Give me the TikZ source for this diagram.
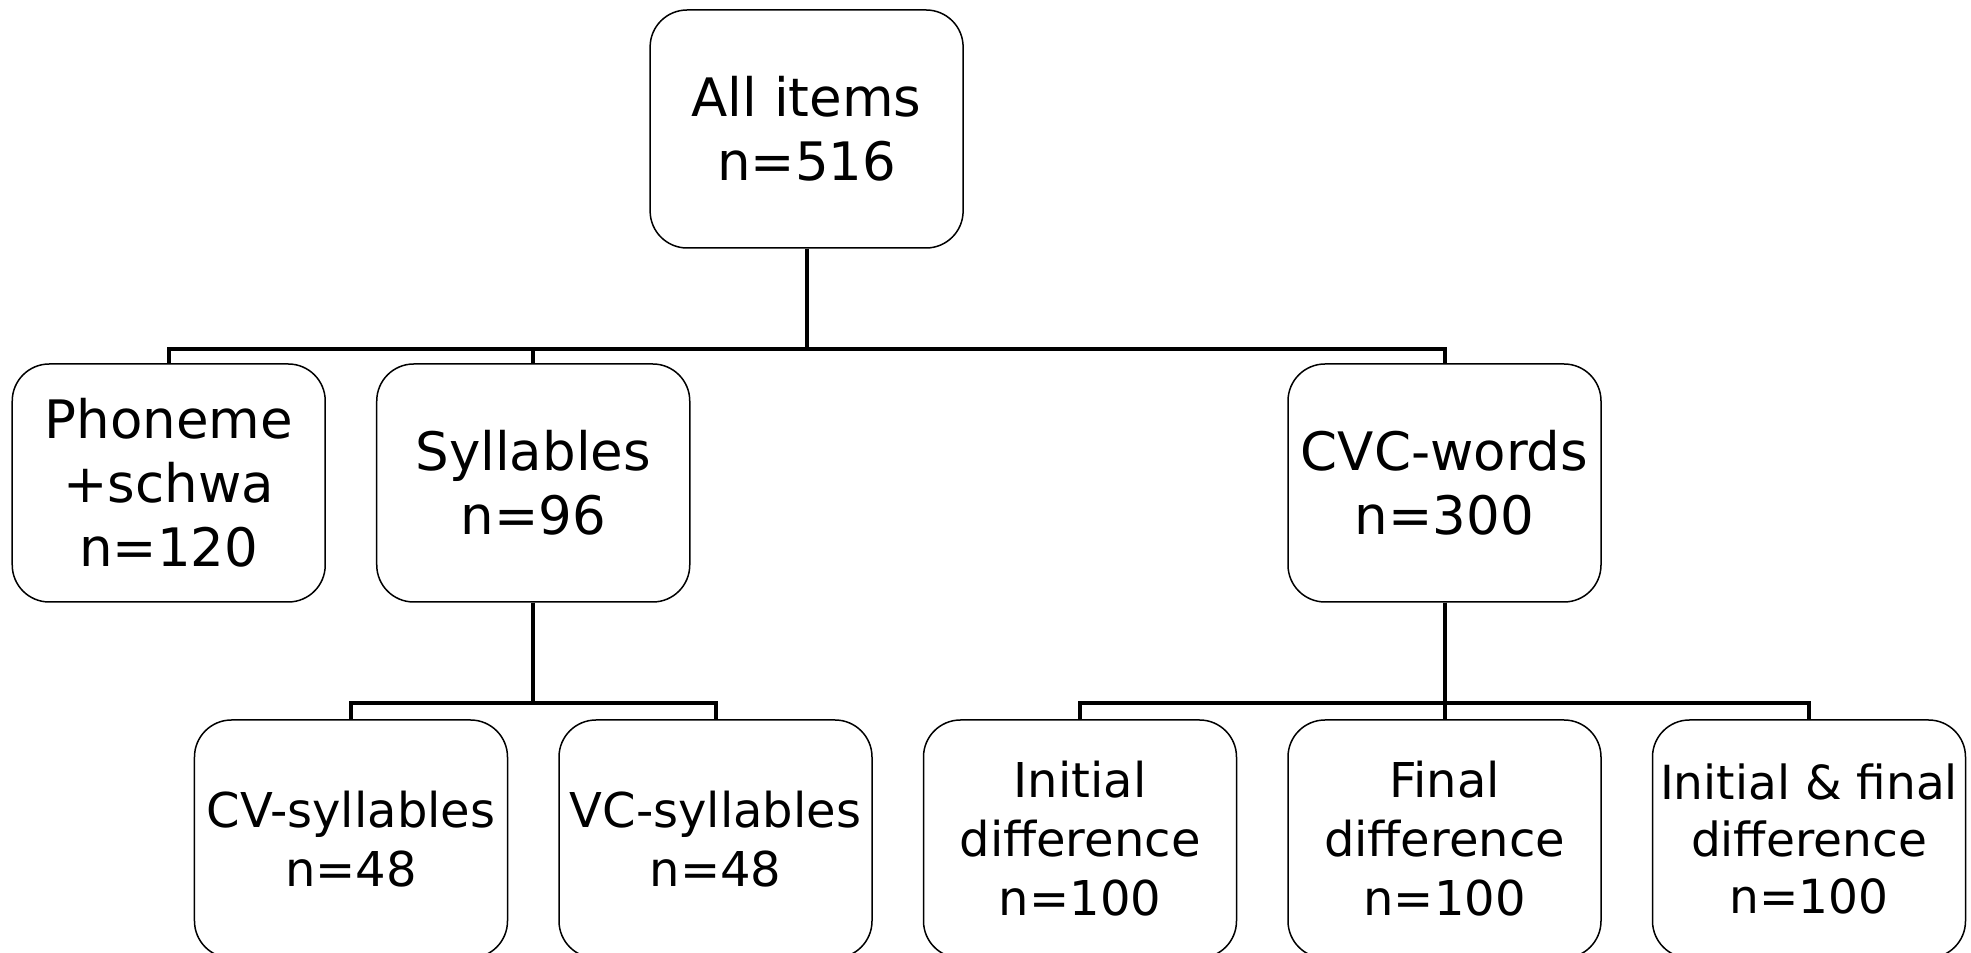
\documentclass[tikz,border=0pt]{standalone}
\usepackage{fontspec}
\setmainfont{DejaVu Sans}
\usetikzlibrary{positioning, calc}
\tikzset{
  item/.style={draw, rounded corners=18.5pt, line width=0.75pt, minimum width=156.5pt,
               minimum height=119pt, align=center, inner sep=1pt,
               font=\fontsize{26.5}{32}\selectfont},
  subitem/.style={item, font=\fontsize{24}{29.5}\selectfont},
  bus/.style={line width=2pt},
}

\begin{document}
\begin{tikzpicture}[node distance=58.25pt and 25pt]
  \useasboundingbox (-175.5pt,-57pt) rectangle (810pt,419.5pt);

  \node[subitem] (cv) {CV-syllables\\n=48};
  \node[subitem, right=of cv] (vc) {VC-syllables\\n=48};
  \node[subitem, right=of vc] (ini) {Initial\\difference\\n=100};
  \node[subitem, right=of ini] (fin) {Final\\difference\\n=100};
  \node[subitem, right=of fin, font=\fontsize{23.5}{28.5}\selectfont] (inifin) {Initial \& final\\difference\\n=100};

  \coordinate (sylbase) at ($(cv.north)!0.5!(vc.north)$);
  \node[item, above=of sylbase] (syl) {Syllables\\n=96};
  \node[item, left=of syl] (phon) {Phoneme\\+schwa\\n=120};
  \node[item, above=of fin] (cvc) {CVC-words\\n=300};

  \coordinate (allbase) at ($(phon.north)!0.5!(cvc.north)$);
  \node[item, above=57.25pt of allbase] (all) {All items\\n=516};

  \foreach \kid in {phon, syl, cvc}
    \draw[bus] (all.south) -- ++(0,-50pt) -| (\kid.north);
  \foreach \kid in {cv, vc}
    \draw[bus] (syl.south) -- ++(0,-50pt) -| (\kid.north);
  \foreach \kid in {ini, fin, inifin}
    \draw[bus] (cvc.south) -- ++(0,-50pt) -| (\kid.north);
\end{tikzpicture}
\end{document}
